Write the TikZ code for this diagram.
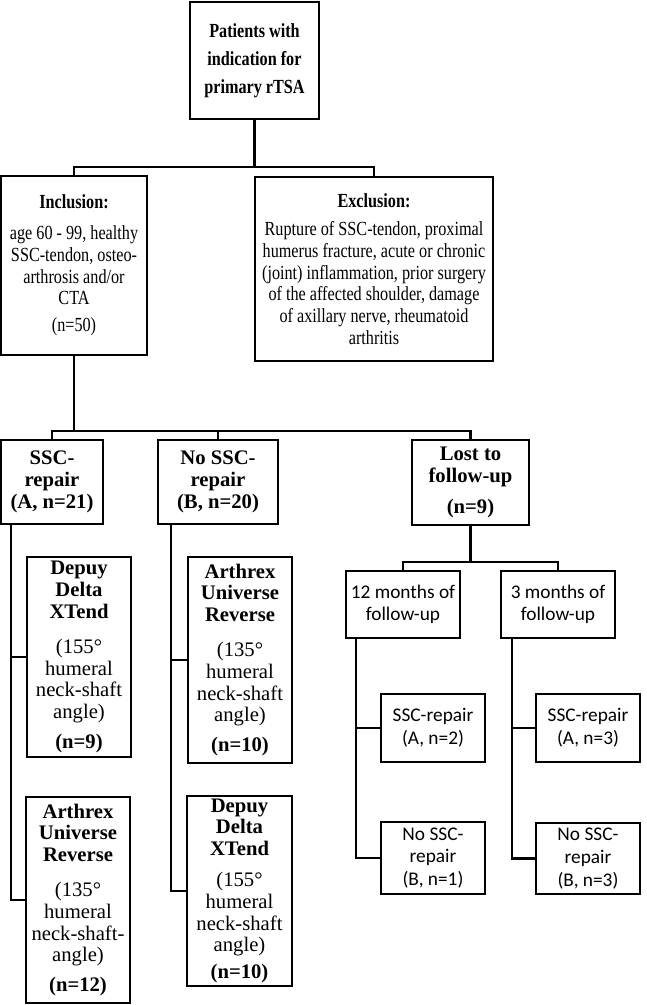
\documentclass[tikz,border=0pt]{standalone}
\usepackage{fontspec}
\setmainfont{Liberation Serif}
\newfontfamily\narrowserif[FakeStretch=0.81]{Liberation Serif}
\newfontfamily\calfont{Carlito}
\tikzset{
  box/.style={draw, line width=1.9pt, align=center, inner sep=0pt},
  link/.style={line width=1.8pt},
  headfont/.style={font=\narrowserif\fontsize{15}{21}\selectfont\bfseries},
  critfont/.style={font=\narrowserif\fontsize{15}{16.3}\selectfont},
  groupfont/.style={font=\fontsize{15.5}{16.3}\selectfont\bfseries},
  subfont/.style={font=\calfont\fontsize{14.5}{17}\selectfont},
}
\begin{document}
\begin{tikzpicture}[x=0.75pt,y=-0.75pt]
  \useasboundingbox (0,0) rectangle (646,1005);
  % upper part
  \node[box,headfont,minimum width=96.75pt,minimum height=87.75pt] (patients) at (254.5,60.5)
    {Patients with\\indication for\\primary rTSA};
  \node[box,critfont,minimum width=109.5pt,minimum height=134.25pt] (incl) at (74,265.5)
    {\textbf{Inclusion:}\\[7pt]age 60 - 99, healthy\\SSC-tendon, osteo-\\arthrosis and/or\\CTA\\[4pt](n=50)};
  \node[box,critfont,minimum width=178.5pt,minimum height=138pt] (excl) at (374,269)
    {\textbf{Exclusion:}\\[5pt]Rupture of SSC-tendon, proximal\\humerus fracture, acute or chronic\\(joint) inflammation, prior surgery\\of the affected shoulder, damage\\of axillary nerve, rheumatoid\\arthritis};
  % groups
  \node[box,groupfont,minimum width=76.5pt,minimum height=63pt] (sscA) at (52,482)
    {SSC-\\repair\\(A, n=21)};
  \node[box,groupfont,minimum width=90pt,minimum height=63pt] (nosscB) at (218,482)
    {No SSC-\\repair\\(B, n=20)};
  \node[box,groupfont,minimum width=87.75pt,minimum height=63.75pt] (lost) at (470.5,482.5)
    {Lost to\\follow-up\\[7pt](n=9)};
  % implants
  \node[box,groupfont,minimum width=78pt,minimum height=150pt] (depuyA) at (79,657)
    {Depuy\\Delta\\XTend\\[10pt]\textmd{(155°}\\\textmd{humeral}\\\textmd{neck-shaft}\\\textmd{angle)}\\[6pt](n=9)};
  \node[box,groupfont,minimum width=78pt,minimum height=154.5pt] (arthrexA) at (78,900)
    {Arthrex\\Universe\\Reverse\\[10pt]\textmd{(135°}\\\textmd{humeral}\\\textmd{neck-shaft-}\\\textmd{angle)}\\[6pt](n=12)};
  \node[box,groupfont,minimum width=78pt,minimum height=154.5pt] (arthrexB) at (240,660)
    {Arthrex\\Universe\\Reverse\\[10pt]\textmd{(135°}\\\textmd{humeral}\\\textmd{neck-shaft}\\\textmd{angle)}\\[6pt](n=10)};
  \node[box,groupfont,minimum width=78.75pt,minimum height=142.5pt] (depuyB) at (239.5,891)
    {Depuy\\Delta\\XTend\\[7pt]\textmd{(155°}\\\textmd{humeral}\\\textmd{neck-shaft}\\\textmd{angle)}\\[4pt](n=10)};
  % lost to follow-up
  \node[box,subfont,minimum width=85.5pt,minimum height=50.25pt] (twelve) at (403,604.5)
    {12 months of\\follow-up};
  \node[box,subfont,minimum width=85.5pt,minimum height=50.25pt] (three) at (558,604.5)
    {3 months of\\follow-up};
  \node[box,subfont,minimum width=78pt,minimum height=51pt] (twelveA) at (433,728)
    {SSC-repair\\(A, n=2)};
  \node[box,subfont,minimum width=78pt,minimum height=54pt] (twelveB) at (433,858)
    {No SSC-\\repair\\(B, n=1)};
  \node[box,subfont,minimum width=78pt,minimum height=51pt] (threeA) at (588,728)
    {SSC-repair\\(A, n=3)};
  \node[box,subfont,minimum width=78pt,minimum height=53.25pt] (threeB) at (588,858.5)
    {No SSC-\\repair\\(B, n=3)};
  % connectors
  \draw[link] (patients.south) -- ++(0,47) -| (incl.north);
  \draw[link] (patients.south) -- ++(0,47) -| (excl.north);
  \draw[link] (incl.south) -- ++(0,75) -| (sscA.north);
  \draw[link] (incl.south) -- ++(0,75) -| (nosscB.north);
  \draw[link] (incl.south) -- ++(0,75) -| (lost.north);
  \draw[link] (lost.south) -- ++(0,36) -| (twelve.north);
  \draw[link] (lost.south) -- ++(0,36) -| (three.north);
  \draw[link] ([xshift=8.25pt]sscA.south west) |- (depuyA.west);
  \draw[link] ([xshift=8.25pt]sscA.south west) |- (arthrexA.west);
  \draw[link] ([xshift=10.5pt]nosscB.south west) |- (arthrexB.west);
  \draw[link] ([xshift=10.5pt]nosscB.south west) |- (depuyB.west);
  \draw[link] ([xshift=8.25pt]twelve.south west) |- (twelveA.west);
  \draw[link] ([xshift=8.25pt]twelve.south west) |- (twelveB.west);
  \draw[link] ([xshift=9pt]three.south west) |- (threeA.west);
  \draw[link] ([xshift=9pt]three.south west) |- (threeB.west);
\end{tikzpicture}
\end{document}
